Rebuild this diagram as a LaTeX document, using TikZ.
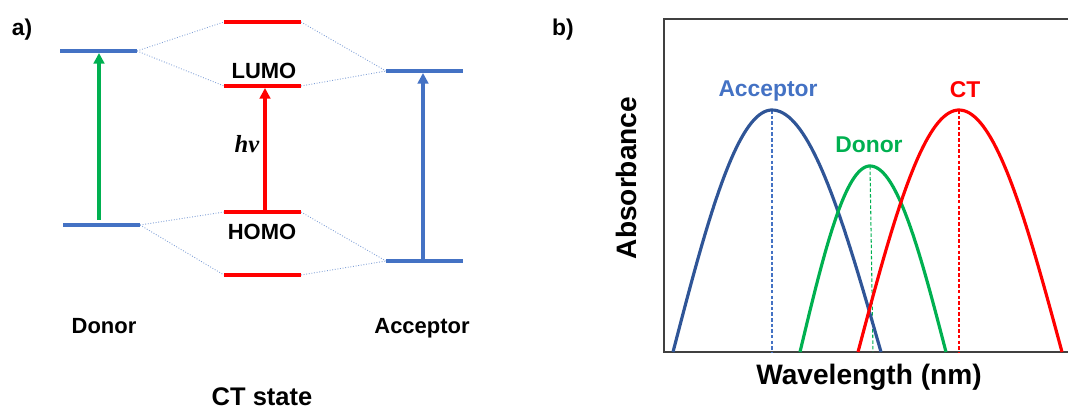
\documentclass[tikz,border=0pt]{standalone}
\usepackage{fontspec}
\setmainfont{Liberation Sans}
\newfontfamily\hvfont{Liberation Serif}
\usetikzlibrary{arrows.meta}
\definecolor{lvblue}{HTML}{4472C4}
\definecolor{ctred}{HTML}{FF0000}
\definecolor{dgreen}{HTML}{00B050}
\definecolor{accdark}{HTML}{2F5597}
\definecolor{linkblue}{HTML}{7F9FD6}
\definecolor{boxgray}{HTML}{404040}
\begin{document}
\begin{tikzpicture}[x=0.02cm,y=-0.02cm,
    level/.style={line width=1.8pt},
    link/.style={linkblue,line width=0.5pt,densely dotted},
    excite/.style={line width=1.8pt,-{Triangle[length=6pt,width=6pt]}},
    band/.style={line width=1.8pt},
    drop/.style={line width=0.6pt,dash pattern=on 2pt off 1.2pt},
    lbl/.style={anchor=base,inner sep=0pt,font=\bfseries\fontsize{12.5}{15}\selectfont},
    big/.style={anchor=base,inner sep=0pt,font=\bfseries\fontsize{16}{19}\selectfont}]
    \useasboundingbox (0,0) rectangle (1068,408);
    \coordinate (DL1) at (60,51);   \coordinate (DL2) at (137,51);
    \coordinate (DH1) at (63,225);  \coordinate (DH2) at (140,225);
    \coordinate (CA1) at (224,22);  \coordinate (CA2) at (301,22);
    \coordinate (CL1) at (224,86);  \coordinate (CL2) at (301,86);
    \coordinate (CH1) at (224,212); \coordinate (CH2) at (301,212);
    \coordinate (CB1) at (224,275); \coordinate (CB2) at (301,275);
    \coordinate (AL1) at (386,71);  \coordinate (AL2) at (463,71);
    \coordinate (AH1) at (386,261); \coordinate (AH2) at (463,261);
    \draw[link](DL2)--(CA1);\draw[link](DL2)--(CL1);
    \draw[link](CA2)--(AL1);\draw[link](CL2)--(AL1);
    \draw[link](DH2)--(CH1);\draw[link](DH2)--(CB1);
    \draw[link](CH2)--(AH1);\draw[link](CB2)--(AH1);
    \draw[level,lvblue](DL1)--(DL2);\draw[level,lvblue](DH1)--(DH2);
    \draw[level,ctred](CA1)--(CA2);\draw[level,ctred](CL1)--(CL2);
    \draw[level,ctred](CH1)--(CH2);\draw[level,ctred](CB1)--(CB2);
    \draw[level,lvblue](AL1)--(AL2);\draw[level,lvblue](AH1)--(AH2);
    \coordinate (gA) at (99,220);  \coordinate (gB) at (99,53);
    \coordinate (rA) at (265,212); \coordinate (rB) at (265,88);
    \coordinate (bA) at (423,261); \coordinate (bB) at (423,73);
    \draw[excite,dgreen](gA)--(gB);
    \draw[excite,ctred](rA)--(rB);
    \draw[excite,lvblue](bA)--(bB);
    \node[lbl,font=\bfseries\fontsize{13}{15}\selectfont](la)at(22,36){a)};
    \node[lbl](lumo)at(264,79){LUMO};
    \node[lbl](homo)at(262,240){HOMO};
    \node[lbl,font=\hvfont\bfseries\itshape\fontsize{14}{16}\selectfont](hv)at(247,153){hv};
    \node[lbl](donA)at(104,334){Donor};
    \node[lbl](accA)at(422,334){Acceptor};
    \node[lbl,font=\bfseries\fontsize{14.5}{17}\selectfont](ct)at(262,405){CT state};
    \node[lbl,font=\bfseries\fontsize{13}{15}\selectfont](lb)at(563,36){b)};
    \draw[boxgray,line width=0.8pt](1068,19)--(664,19)--(664,352)--(1068,352);
    \node[big,rotate=90,anchor=center](absb)at(626,178){Absorbance};
    \node[big](wave)at(869,384){Wavelength (nm)};
    \coordinate (accpk) at (772,110);
    \coordinate (donpk) at (870,166);
    \coordinate (ctpk) at (959,110);
    \draw[drop,lvblue](accpk)--(accpk|-0,352);
    \draw[drop,dgreen](donpk)--(873,352);
    \draw[drop,ctred](ctpk)--(ctpk|-0,352);
    \draw[band,accdark]plot[domain=-90:0,samples=40]({772+99*\x/90},{352-242*cos(\x)})
        --plot[domain=0:90,samples=40]({772+109*\x/90},{352-242*cos(\x)});
    \draw[band,dgreen]plot[domain=-90:0,samples=40]({870+70*\x/90},{352-186*cos(\x)})
        --plot[domain=0:90,samples=40]({870+76*\x/90},{352-186*cos(\x)});
    \draw[band,ctred]plot[domain=-90:0,samples=40]({959+101*\x/90},{352-242*cos(\x)})
        --plot[domain=0:90,samples=40]({959+103*\x/90},{352-242*cos(\x)});
    \node[lbl,lvblue,font=\bfseries\fontsize{13}{15}\selectfont](accB)at(768,97){Acceptor};
    \node[lbl,dgreen,font=\bfseries\fontsize{13}{15}\selectfont](donB)at(869,153){Donor};
    \node[lbl,ctred,font=\bfseries\fontsize{13}{15}\selectfont](ctB)at(965,98){CT};
\end{tikzpicture}
\end{document}
